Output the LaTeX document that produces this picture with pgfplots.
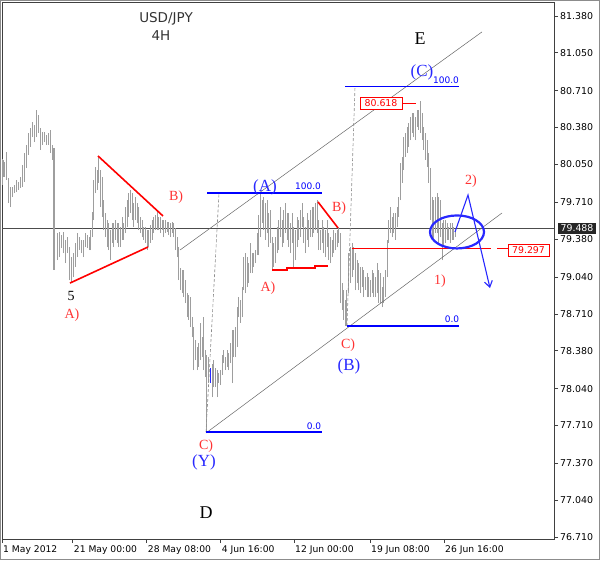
\documentclass[border=0pt]{standalone}
\usepackage{pgfplots}
\usepackage{pgfplotstable}
\pgfplotsset{compat=1.18}
\usepackage{fontspec}
\setmainfont{DejaVu Sans}
\newfontfamily\tms{Liberation Serif}
\usetikzlibrary{arrows.meta}

\definecolor{barc}{RGB}{158,158,158}
\definecolor{wred}{RGB}{255,50,50}
\definecolor{wblue}{RGB}{40,40,255}
\definecolor{fibblue}{RGB}{0,0,255}

% 4H bars: position, low, high
\pgfplotstableread[row sep=\\]{
x lo hi\\
3 79.865 80.098\\ 4 79.937 80.089\\ 5 79.937 80.071\\ 7 79.910 80.161\\
9 79.703 79.928\\ 11 79.667 79.847\\ 13 79.757 79.847\\ 15 79.793 79.865\\
17 79.802 79.910\\ 19 79.820 79.892\\ 21 79.838 79.937\\ 23 79.847 80.044\\
25 79.892 80.152\\ 27 80.017 80.224\\ 29 80.134 80.331\\ 31 80.206 80.376\\
33 80.295 80.430\\ 35 80.250 80.403\\ 37 80.295 80.537\\ 39 80.331 80.492\\
41 80.179 80.376\\ 43 80.224 80.340\\ 45 80.250 80.340\\ 47 80.224 80.313\\
49 80.224 80.331\\ 51 80.152 80.358\\ 53 80.089 80.224\\ 54 79.103 80.197\\
57 79.192 79.434\\ 59 79.219 79.443\\ 61 79.300 79.416\\ 63 79.255 79.443\\
65 79.165 79.372\\ 67 79.255 79.398\\ 69 79.013 79.309\\ 71 78.986 79.219\\
73 79.040 79.255\\ 75 79.130 79.345\\ 77 79.219 79.434\\ 79 79.282 79.398\\
81 79.255 79.372\\ 83 79.219 79.372\\ 85 79.309 79.434\\ 87 79.300 79.416\\
89 79.282 79.398\\ 90 79.282 79.461\\ 92 79.398 79.623\\ 93 79.551 79.910\\
95 79.793 80.026\\ 97 79.820 79.999\\ 98 79.883 80.116\\ 100 79.667 79.999\\
102 79.578 79.937\\ 103 79.461 79.730\\ 105 79.398 79.614\\ 107 79.309 79.551\\
108 79.282 79.524\\ 110 79.192 79.461\\ 112 79.345 79.524\\ 113 79.309 79.524\\
115 79.372 79.551\\ 117 79.345 79.524\\ 118 79.309 79.524\\ 120 79.309 79.488\\
122 79.372 79.578\\ 123 79.372 79.524\\ 125 79.434 79.667\\ 127 79.488 79.730\\
128 79.578 79.793\\ 130 79.614 79.820\\ 132 79.551 79.793\\ 133 79.488 79.703\\
135 79.551 79.757\\ 137 79.524 79.703\\ 138 79.461 79.667\\ 140 79.434 79.578\\
142 79.398 79.551\\ 143 79.372 79.488\\ 145 79.345 79.488\\ 147 79.282 79.461\\
148 79.309 79.461\\ 150 79.345 79.506\\ 152 79.372 79.551\\ 153 79.434 79.578\\
155 79.461 79.596\\ 157 79.461 79.641\\ 158 79.461 79.578\\ 160 79.434 79.578\\
162 79.461 79.551\\ 163 79.398 79.551\\ 165 79.434 79.551\\ 167 79.443 79.533\\
168 79.416 79.533\\ 170 79.398 79.524\\ 172 79.434 79.533\\ 173 79.398 79.524\\
175 79.282 79.479\\ 177 79.219 79.398\\ 178 79.013 79.309\\ 180 78.923 79.121\\
182 78.896 79.103\\ 183 78.860 79.103\\ 185 78.807 79.013\\ 187 78.681 78.896\\
188 78.655 78.878\\ 190 78.592 78.860\\ 192 78.502 78.681\\ 193 78.206 78.592\\
195 78.296 78.475\\ 197 78.206 78.413\\ 198 78.234 78.449\\ 200 78.296 78.628\\
202 78.323 78.502\\ 203 78.206 78.681\\ 205 78.144 78.386\\ 206 77.642 78.341\\
208 78.090 78.323\\ 212 77.964 78.260\\ 213 78.054 78.296\\ 215 78.054 78.224\\
217 77.964 78.206\\ 218 78.090 78.180\\ 220 78.072 78.206\\ 222 78.162 78.341\\
223 78.269 78.386\\ 225 78.206 78.323\\ 227 78.234 78.386\\ 228 78.206 78.359\\
230 78.269 78.449\\ 232 78.090 78.565\\ 233 78.323 78.565\\ 235 78.323 78.592\\
237 78.413 78.771\\ 238 78.681 78.860\\ 240 78.628 78.834\\ 242 78.681 78.950\\
243 78.923 79.219\\ 245 78.896 79.255\\ 247 78.950 79.219\\ 248 78.986 79.165\\
250 79.076 79.345\\ 252 79.076 79.255\\ 253 79.130 79.255\\ 255 79.165 79.282\\
257 79.237 79.434\\ 258 79.237 79.596\\ 260 79.398 79.793\\ 262 79.524 79.730\\
263 79.461 79.757\\ 265 79.372 79.703\\ 267 79.434 79.730\\ 268 79.309 79.614\\
270 79.345 79.641\\ 272 79.103 79.398\\ 273 79.130 79.345\\ 275 79.165 79.398\\
277 79.255 79.488\\ 278 79.282 79.551\\ 280 79.398 79.667\\ 282 79.309 79.551\\
283 79.345 79.641\\ 285 79.434 79.703\\ 287 79.372 79.614\\ 288 79.309 79.614\\
290 79.255 79.524\\ 292 79.345 79.614\\ 293 79.130 79.488\\ 295 79.192 79.461\\
297 79.309 79.578\\ 298 79.372 79.551\\ 300 79.398 79.641\\ 302 79.488 79.703\\
303 79.345 79.578\\ 305 79.255 79.488\\ 307 79.372 79.614\\ 308 79.309 79.551\\
310 79.398 79.641\\ 312 79.398 79.667\\ 313 79.434 79.667\\ 315 79.461 79.703\\
317 79.434 79.730\\ 318 79.282 79.551\\ 320 79.282 79.461\\ 322 79.345 79.551\\
323 79.255 79.488\\ 325 79.219 79.461\\ 327 79.309 79.551\\ 328 79.192 79.434\\
330 79.165 79.398\\ 332 79.219 79.372\\ 333 79.255 79.461\\ 335 79.282 79.434\\
337 79.309 79.461\\ 338 79.345 79.488\\ 340 78.807 79.434\\ 342 78.744 78.986\\
343 78.655 78.923\\ 345 78.601 78.834\\ 346 78.601 78.923\\ 348 78.896 79.255\\
350 78.986 79.309\\ 352 79.040 79.345\\ 353 79.103 79.309\\ 355 78.923 79.255\\
357 78.986 79.192\\ 358 78.923 79.165\\ 360 78.896 79.130\\ 362 78.950 79.130\\
363 78.860 79.103\\ 365 78.923 79.040\\ 367 78.860 79.076\\ 368 78.860 79.040\\
370 78.860 79.013\\ 372 78.896 79.103\\ 373 78.860 79.076\\ 375 78.860 79.040\\
377 78.896 79.165\\ 378 78.807 79.103\\ 380 78.807 79.076\\ 382 78.771 78.950\\
383 78.807 79.040\\ 385 78.860 79.103\\ 387 79.040 79.372\\ 388 79.345 79.551\\
390 79.434 79.667\\ 392 79.398 79.578\\ 393 79.434 79.614\\ 395 79.372 79.614\\
397 79.488 79.667\\ 398 79.578 79.757\\ 400 79.730 80.062\\ 402 79.883 80.116\\
403 79.999 80.295\\ 405 80.116 80.331\\ 407 80.152 80.385\\ 408 80.206 80.421\\
410 80.268 80.474\\ 412 80.331 80.510\\ 413 80.295 80.510\\ 415 80.268 80.474\\
417 80.385 80.537\\ 418 80.358 80.537\\ 420 80.331 80.618\\ 422 80.268 80.510\\
423 80.179 80.385\\ 425 80.089 80.331\\ 427 80.026 80.268\\ 428 79.883 80.152\\
430 79.551 80.017\\ 432 79.398 79.757\\ 433 79.372 79.730\\ 435 79.434 79.757\\
437 79.434 79.793\\ 438 79.345 79.757\\ 440 79.398 79.730\\ 442 79.192 79.524\\
443 79.309 79.551\\ 445 79.345 79.551\\ 447 79.372 79.524\\ 448 79.372 79.488\\
450 79.345 79.524\\ 452 79.372 79.524\\ 453 79.372 79.488\\ 455 79.398 79.461\\
}\bars

\pgfplotstableread[row sep=\\]{
x lo hi\\
210 78.090 78.224\\
}\bluebar

\begin{document}
\begin{tikzpicture}
\useasboundingbox (0pt,0pt) rectangle (600pt,560pt);
\draw[black!45, line width=0.8pt] (0.4pt,0.4pt) rectangle (599.6pt,559.6pt);
\begin{axis}[
  at={(2pt,21pt)}, anchor=south west,
  scale only axis, width=552pt, height=537pt,
  xmin=2, xmax=554, ymin=76.692, ymax=81.505,
  axis line style={black!75, line width=0.7pt},
  tick align=outside, major tick length=4pt,
  tick style={black!75, line width=0.6pt},
  xtick pos=left, ytick pos=right, yticklabel pos=right,
  xtick={2,72.7,146.7,220.7,294,370,444},
  xticklabels={1 May 2012,21 May 00:00,28 May 08:00,4 Jun 16:00,12 Jun 00:00,19 Jun 08:00,26 Jun 16:00},
  ytick={76.71,77.04,77.37,77.71,78.04,78.38,78.71,79.04,79.38,79.71,80.05,80.38,80.71,81.05,81.38},
  yticklabels={76.710,77.040,77.370,77.710,78.040,78.380,78.710,79.040,79.380,79.710,80.050,80.380,80.710,81.050,81.380},
  xticklabel style={anchor=north west, inner sep=1pt, yshift=-1.5pt, font=\fontsize{9.2}{11}\selectfont},
  yticklabel style={anchor=west, inner sep=2pt, font=\fontsize{9.4}{11}\selectfont},
  clip=false,
]
% current price line
\draw[black!70, line width=0.6pt] (2,79.478) -- (554,79.478);

% price bars
\addplot[draw=none, mark=none, forget plot, error bars/.cd, y dir=plus, y explicit,
  error mark=none, error bar style={draw=barc, line width=1pt}]
  table[x=x, y=lo, y error expr=\thisrow{hi}-\thisrow{lo}] {\bars};
\addplot[draw=none, mark=none, forget plot, error bars/.cd, y dir=plus, y explicit,
  error mark=none, error bar style={draw=wblue, line width=1pt}]
  table[x=x, y=lo, y error expr=\thisrow{hi}-\thisrow{lo}] {\bluebar};

% channel
\draw[black!60, line width=0.5pt] (180,79.282) -- (482,81.237);
\draw[black!60, line width=0.5pt] (206,77.642) -- (502,79.614);
% fib anchors
\draw[black!45, line width=0.6pt, dash pattern=on 3pt off 2pt] (206,77.651) -- (219,79.793);
\draw[black!45, line width=0.6pt, dash pattern=on 3pt off 2pt] (347,78.601) -- (355,80.745);
\draw[fibblue, line width=1.4pt] (207,79.793) -- (322,79.793);
\draw[fibblue, line width=1.4pt] (206,77.651) -- (322,77.651);
\draw[fibblue, line width=1.4pt] (345,80.745) -- (459,80.745);
\draw[fibblue, line width=1.4pt] (347,78.601) -- (459,78.601);

% triangles
\draw[red, line width=1.6pt] (98,80.125) -- (163,79.587);
\draw[red, line width=1.6pt] (70,78.986) -- (148,79.309);
\draw[red, line width=1.6pt] (318,79.713) -- (338,79.480);
\draw[red, line width=1.6pt] (272,79.103) -- (287,79.103) -- (287,79.121) -- (315,79.121) -- (315,79.139) -- (328,79.139);

% levels
\draw[red, line width=0.9pt] (352,79.297) -- (491,79.297);
\draw[red, line width=0.9pt] (497,79.297) -- (508,79.297);
\draw[red, line width=0.9pt] (403,80.600) -- (416,80.600);

% projection
\draw[wblue, line width=2.2pt] (457,79.444) ellipse [x radius=27pt, y radius=16.5pt];
\draw[wblue, line width=1.1pt, -{Straight Barb[length=6pt, width=8pt]}]
  (455,79.444) -- (468,79.775) -- (490,78.941);
\end{axis}

% labels
\node[font=\fontsize{13.5}{15}\selectfont, black!80] at (166pt,541pt) {USD/JPY};
\node[font=\fontsize{13.5}{15}\selectfont, black!80] at (161pt,524pt) {4H};
\node[font=\tms\fontsize{18}{20}\selectfont] at (420pt,521pt) {E};
\node[font=\tms\fontsize{18}{20}\selectfont] at (206pt,47pt) {D};

\node[font=\tms\fontsize{17}{19}\selectfont, wblue] at (422pt,488pt) {(C)};
\node[font=\tms\fontsize{17}{19}\selectfont, wblue] at (265pt,373pt) {(A)};
\node[font=\tms\fontsize{17}{19}\selectfont, wblue] at (204pt,98pt) {(Y)};
\node[font=\tms\fontsize{17}{19}\selectfont, wblue] at (349pt,194pt) {(B)};

\node[font=\tms\fontsize{14}{16}\selectfont, wred] at (176pt,363pt) {B)};
\node[font=\tms\fontsize{14}{16}\selectfont] at (71pt,264pt) {5};
\node[font=\tms\fontsize{14}{16}\selectfont, wred] at (72pt,245pt) {A)};
\node[font=\tms\fontsize{14}{16}\selectfont, wred] at (268pt,272pt) {A)};
\node[font=\tms\fontsize{14}{16}\selectfont, wred] at (339pt,352pt) {B)};
\node[font=\tms\fontsize{14}{16}\selectfont, wred] at (206pt,114pt) {C)};
\node[font=\tms\fontsize{14}{16}\selectfont, wred] at (348pt,215pt) {C)};
\node[font=\tms\fontsize{14}{16}\selectfont, wred] at (440pt,279pt) {1)};
\node[font=\tms\fontsize{14}{16}\selectfont, wred] at (471pt,379pt) {2)};

\node[font=\fontsize{9}{10}\selectfont, fibblue] at (446pt,480pt) {100.0};
\node[font=\fontsize{9}{10}\selectfont, fibblue] at (308pt,374pt) {100.0};
\node[font=\fontsize{9}{10}\selectfont, fibblue] at (314pt,133.5pt) {0.0};
\node[font=\fontsize{9}{10}\selectfont, fibblue] at (452pt,240.5pt) {0.0};

\node[draw=red, fill=white, text=red, inner xsep=4.5pt, inner ysep=2.3pt,
  font=\fontsize{9.4}{10}\selectfont] at (381pt,456.5pt) {80.618};
\node[draw=red, fill=white, text=red, inner xsep=4pt, inner ysep=2.3pt,
  font=\fontsize{9.4}{10}\selectfont] at (528.5pt,309.5pt) {79.297};
\node[fill=black!85, text=white, inner xsep=3pt, inner ysep=1.8pt,
  font=\fontsize{9.4}{10}\selectfont] at (577pt,331.5pt) {79.488};
\end{tikzpicture}
\end{document}
